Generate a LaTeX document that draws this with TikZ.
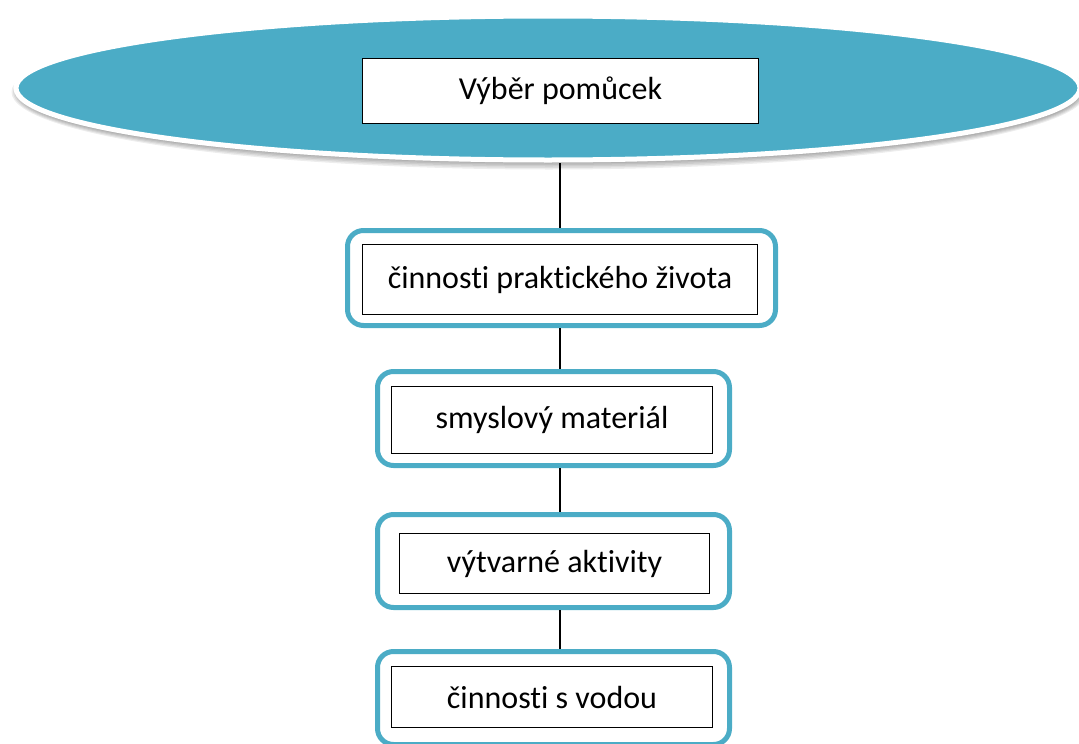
\documentclass[tikz,border=0pt]{standalone}
\usepackage{fontspec}
\setmainfont{Carlito}[Ligatures=NoCommon]
\usetikzlibrary{shapes.geometric}
\definecolor{accent}{RGB}{75,172,198}
\begin{document}
\begin{tikzpicture}[x=1pt,y=-1pt,
  label font/.style={font=\fontsize{32}{38}\selectfont},
  outerbox/.style={draw=accent, line width=5pt, rounded corners=16pt, fill=white, inner sep=0pt},
  innerbox/.style={draw=black, line width=1.2pt, fill=white, inner sep=0pt, label font},
  softshadow/.style={fill=black, opacity=0.07, draw=none},
  link/.style={draw=black, line width=1.5pt}]
\useasboundingbox (0,0) rectangle (1079,744);

% soft shadow under the header ellipse
\foreach \i in {0,...,5}{
  \fill[softshadow] (549,92) ellipse [x radius={530+1.5*\i}, y radius={70+1.5*\i}];
}

% header ellipse
\node[ellipse, draw=white, line width=5pt, fill=accent,
      minimum width=1064pt, minimum height=144pt]
      (head) at (548,88) {};

% outer frames
\node[outerbox, minimum width=428pt, minimum height=95pt] (f1) at (561.5,278) {};
\node[outerbox, minimum width=352pt, minimum height=94pt] (f2) at (553.5,418.5) {};
\node[outerbox, minimum width=352pt, minimum height=93pt] (f3) at (553.5,561) {};
\node[outerbox, minimum width=352pt, minimum height=93pt] (f4) at (553.5,698) {};

% labelled boxes
\node[innerbox, minimum width=396pt, minimum height=65pt] (top) at (560.5,91) {Výběr pomůcek};
\node[innerbox, minimum width=395pt, minimum height=70pt] (b1) at (560,279.5) {činnosti praktického života};
\node[innerbox, minimum width=321pt, minimum height=67pt] (b2) at (552,420) {smyslový materiál};
\node[innerbox, minimum width=310pt, minimum height=60pt] (b3) at (554.5,563.5) {výtvarné aktivity};
\node[innerbox, minimum width=321pt, minimum height=61pt] (b4) at (552,697) {činnosti s vodou};

% connectors
\coordinate (hb) at (560,163);
\draw[link] (hb) -- (hb |- f1.north);
\draw[link] (hb |- f1.south) -- (hb |- f2.north);
\draw[link] (hb |- f2.south) -- (hb |- f3.north);
\draw[link] (hb |- f3.south) -- (hb |- f4.north);
\end{tikzpicture}
\end{document}
